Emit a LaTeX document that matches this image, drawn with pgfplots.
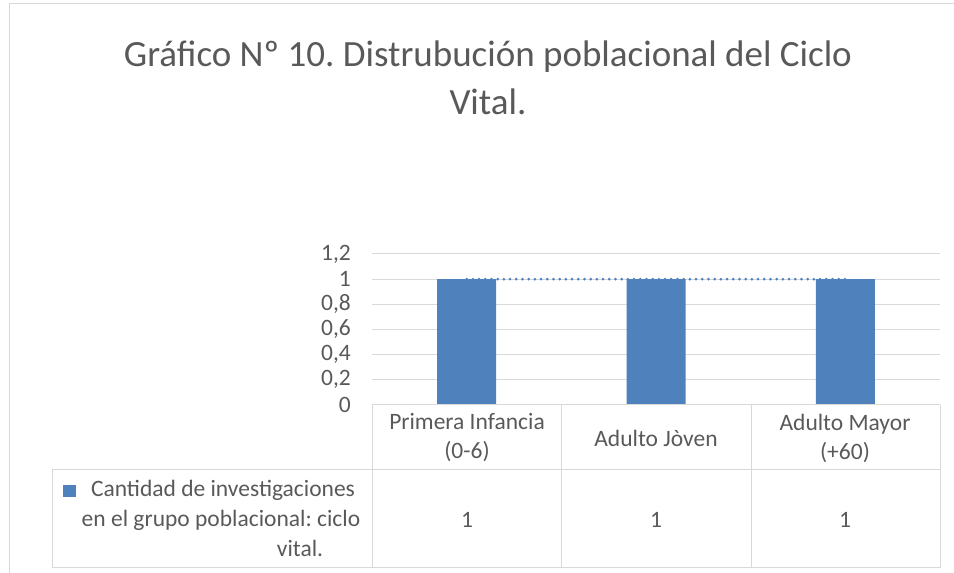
\documentclass[border=0pt]{standalone}
\usepackage{pgfplots}
\pgfplotsset{compat=1.18}
\usepackage{fontspec}
\setmainfont{Carlito}
\definecolor{barblue}{HTML}{4F81BD}
\definecolor{gridc}{HTML}{D9D9D9}
\definecolor{txt}{HTML}{595959}
\frenchspacing
\begin{document}
\begin{tikzpicture}
\path[use as bounding box] (0pt,0pt) rectangle (954pt,573pt);
% outer chart frame
\draw[gridc, line width=1pt] (9pt,0pt) -- (9pt,569pt) -- (954pt,569pt);
% title
\node[txt, font=\fontsize{37}{46}\selectfont] at (488pt,516pt) {Gráfico Nº 10. Distrubución poblacional del Ciclo};
\node[txt, font=\fontsize{37}{46}\selectfont] at (488pt,471pt) {Vital.};
\begin{axis}[
  at={(372pt,168pt)}, anchor=south west,
  scale only axis, width=568pt, height=151pt,
  xmin=-0.5, xmax=2.5, ymin=0, ymax=1.2,
  xtick=\empty,
  ytick={0,0.2,0.4,0.6,0.8,1,1.2},
  ymajorgrids, grid style={gridc, line width=1pt},
  axis line style={draw=none},
  major tick length=0pt,
  /pgf/number format/use comma,
  /pgf/number format/assume math mode=true,
  yticklabel style={txt, font=\fontsize{23.5}{27}\selectfont, anchor=east, inner sep=0pt, xshift=-21pt},
  clip=false,
]
\addplot[ybar, bar width=59pt, fill=barblue, draw=none] coordinates {(0,1) (1,1) (2,1)};
\addplot[barblue, line width=3pt, line cap=round, dash pattern=on 0pt off 6.2pt] coordinates {(0,1) (1,1) (2,1)};
\end{axis}
% data table
\begin{scope}[gridc, line width=1pt]
\draw (372pt,168pt) -- (940pt,168pt);
\draw (52pt,103pt) -- (940pt,103pt);
\draw (52pt,5pt) -- (940pt,5pt);
\draw (52pt,103pt) -- (52pt,5pt);
\draw (372pt,168pt) -- (372pt,5pt);
\draw (561pt,168pt) -- (561pt,5pt);
\draw (751pt,168pt) -- (751pt,5pt);
\draw (940pt,168pt) -- (940pt,5pt);
\end{scope}
\begin{scope}[every node/.style={txt, font=\fontsize{23.5}{29}\selectfont, align=center}]
\node at (467pt,135pt) {Primera Infancia\\(0-6)};
\node at (656pt,135pt) {Adulto Jòven};
\node at (845pt,135pt) {Adulto Mayor\\(+60)};
\node at (467pt,53pt) {1};
\node at (656pt,53pt) {1};
\node at (845pt,53pt) {1};
\node at (223pt,83pt) {Cantidad de investigaciones};
\node at (221pt,53pt) {en el grupo poblacional: ciclo};
\node at (300pt,25pt) {vital.};
\end{scope}
\fill[barblue] (63pt,76pt) rectangle (76pt,88pt);
\end{tikzpicture}
\end{document}
